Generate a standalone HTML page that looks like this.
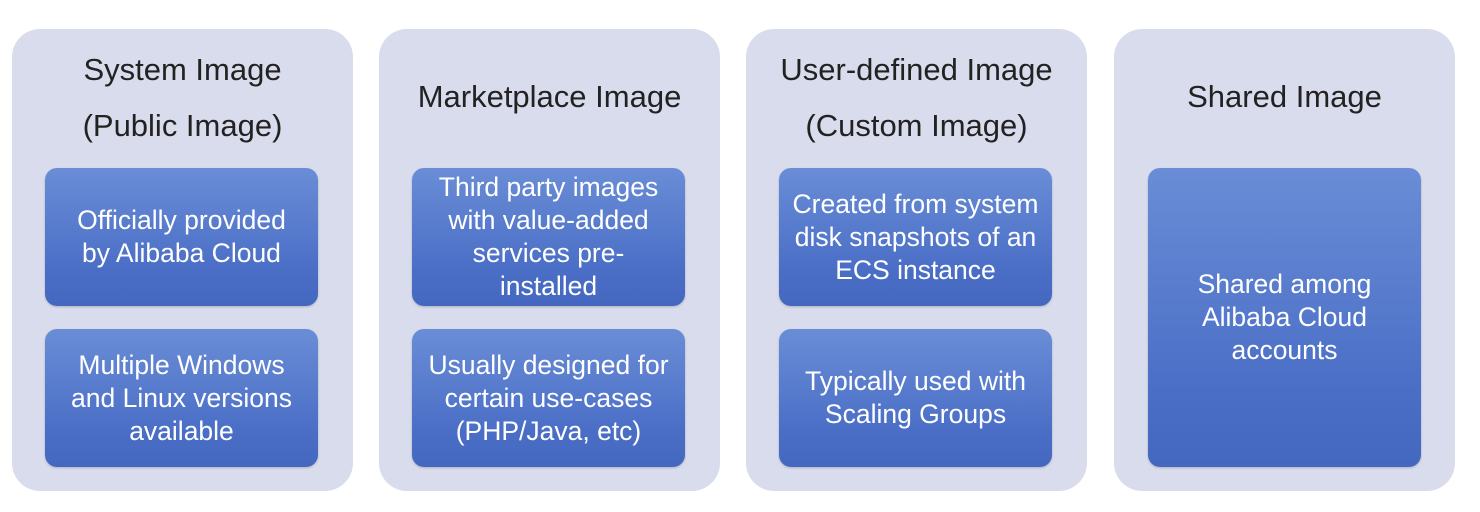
<!DOCTYPE html>
<html><head><style>
html,body{margin:0;padding:0;background:#fff;}
body{width:1480px;height:512px;position:relative;overflow:hidden;font-family:"Liberation Sans",sans-serif;}
.p{position:absolute;top:29px;width:341px;height:462px;background:#d9dcec;border-radius:28px;}
.t{position:absolute;left:0;width:100%;text-align:center;color:#222;font-size:31px;line-height:56px;white-space:nowrap;}
.b{position:absolute;left:33px;width:273px;border-radius:12px;background:linear-gradient(#6a8dd6,#4a6ec6 75%,#4467bf);color:#fff;font-size:26.5px;line-height:33px;text-align:center;display:flex;align-items:center;justify-content:center;box-shadow:0 1px 2px rgba(0,0,0,.2);white-space:nowrap;}
</style></head><body>
<div class="p" style="left:12px"><div class="t" style="top:13px">System Image<br>(Public Image)</div>
<div class="b" style="top:139px;height:138px">Officially provided<br>by Alibaba Cloud</div>
<div class="b" style="top:300px;height:138px">Multiple Windows<br>and Linux versions<br>available</div></div>
<div class="p" style="left:379px"><div class="t" style="top:40px">Marketplace Image</div>
<div class="b" style="top:139px;height:138px">Third party images<br>with value-added<br>services pre-<br>installed</div>
<div class="b" style="top:300px;height:138px">Usually designed for<br>certain use-cases<br>(PHP/Java, etc)</div></div>
<div class="p" style="left:746px"><div class="t" style="top:13px">User-defined Image<br>(Custom Image)</div>
<div class="b" style="top:139px;height:138px">Created from system<br>disk snapshots of an<br>ECS instance</div>
<div class="b" style="top:300px;height:138px">Typically used with<br>Scaling Groups</div></div>
<div class="p" style="left:1114px"><div class="t" style="top:40px">Shared Image</div>
<div class="b" style="top:139px;height:299px;left:34px">Shared among<br>Alibaba Cloud<br>accounts</div></div>
</body></html>
